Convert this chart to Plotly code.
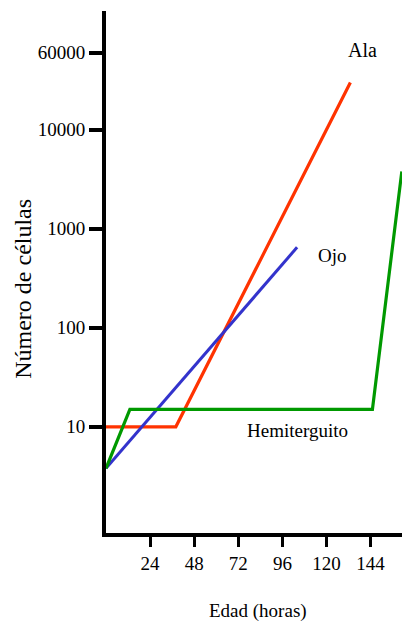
import plotly.graph_objects as go

# Cell counts over time (hours) for three imaginal tissues
ala_hours = [0, 38, 133]
ala_cells = [10, 10, 30000]

ojo_hours = [0, 104]
ojo_cells = [3.8, 650]

hemi_hours = [0, 13, 145, 161]
hemi_cells = [3.8, 15, 15, 3800]

x_ticks = [24, 48, 72, 96, 120, 144]
y_ticks = [10, 100, 1000, 10000, 60000]

FONT = "Liberation Serif, Times New Roman, serif"

fig = go.Figure()
fig.add_trace(go.Scatter(x=ala_hours, y=ala_cells, mode="lines",
                         line=dict(color="#ff3300", width=3.2)))
fig.add_trace(go.Scatter(x=ojo_hours, y=ojo_cells, mode="lines",
                         line=dict(color="#3333cc", width=3)))
fig.add_trace(go.Scatter(x=hemi_hours, y=hemi_cells, mode="lines",
                         line=dict(color="#009900", width=3.2)))

fig.update_layout(
    width=402, height=626,
    margin=dict(l=106, r=0, t=11, b=93),
    paper_bgcolor="white", plot_bgcolor="white",
    showlegend=False,
    font=dict(family=FONT, color="black"),
    xaxis=dict(
        range=[0, 161.1], showgrid=False, zeroline=False,
        showline=True, linecolor="black", linewidth=4,
        ticks="outside", ticklen=10, tickwidth=3, tickcolor="black",
        tickvals=x_ticks, ticktext=[str(v) for v in x_ticks],
        tickfont=dict(family=FONT, size=19, color="black"),
    ),
    yaxis=dict(
        type="log", range=[-0.073, 5.2], showgrid=False, zeroline=False,
        showline=True, linecolor="black", linewidth=4,
        ticks="outside", ticklen=13, tickwidth=4, tickcolor="black",
        tickvals=y_ticks, ticktext=[str(v) for v in y_ticks],
        tickfont=dict(family=FONT, size=19, color="black"),
    ),
)

labels = [
    ("Ala", 0.865, 0.926, 20, 0),
    ("Ojo", 0.764, 0.531, 19, 0),
    ("Hemiterguito", 0.646, 0.197, 19, 0),
    ("Edad (horas)", 0.515, -0.149, 19, 0),
    ("Número de células", -0.28, 0.468, 24, -90),
]
for text, x, y, size, angle in labels:
    fig.add_annotation(text=text, x=x, y=y, xref="paper", yref="paper",
                       showarrow=False, xanchor="center", yanchor="middle",
                       textangle=angle,
                       font=dict(family=FONT, size=size, color="black"))

fig.write_html("out.html")
